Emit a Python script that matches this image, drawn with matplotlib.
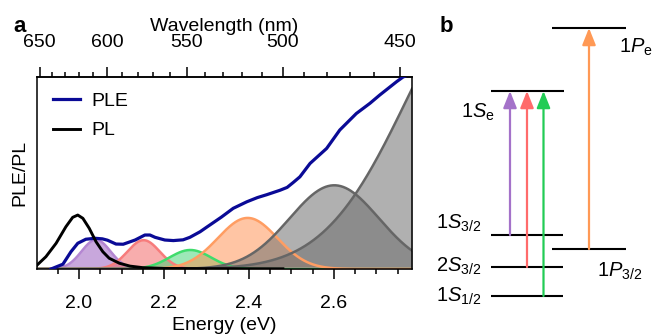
import numpy as np
import matplotlib
matplotlib.use("Agg")
import matplotlib.pyplot as plt
from matplotlib.ticker import FixedLocator, NullFormatter, MultipleLocator

plt.rcParams['font.family'] = ['Liberation Sans', 'DejaVu Sans']
plt.rcParams['mathtext.fontset'] = 'custom'
plt.rcParams['mathtext.rm'] = 'Liberation Sans'
plt.rcParams['mathtext.it'] = 'Liberation Sans:italic'

# ---------------- data (panel a) ----------------
ple_energy = [1.934, 1.962, 1.981, 1.997, 2.016, 2.038, 2.055, 2.067, 2.087, 2.104, 2.132,
              2.155, 2.167, 2.179, 2.202, 2.222, 2.245, 2.261, 2.285, 2.300, 2.335, 2.363,
              2.395, 2.420, 2.442, 2.473, 2.490, 2.504, 2.520, 2.544, 2.583, 2.614, 2.653,
              2.685, 2.708, 2.748, 2.763, 2.780]
ple_value = [0.000, 0.025, 0.090, 0.134, 0.155, 0.160, 0.157, 0.150, 0.130, 0.129, 0.151,
             0.177, 0.177, 0.165, 0.151, 0.148, 0.152, 0.165, 0.194, 0.217, 0.270, 0.316,
             0.350, 0.372, 0.387, 0.410, 0.425, 0.450, 0.480, 0.550, 0.628, 0.724, 0.810,
             0.863, 0.906, 0.976, 1.000, 1.015]

pl_energy = [1.901, 1.922, 1.946, 1.969, 1.985, 1.997, 2.009, 2.024, 2.040, 2.056, 2.071,
             2.095, 2.120, 2.150, 2.200, 2.300, 2.480]
pl_value = [0.020, 0.064, 0.134, 0.220, 0.269, 0.281, 0.264, 0.212, 0.142, 0.090, 0.056,
            0.030, 0.015, 0.007, 0.003, 0.002, 0.001]

# fitted gaussian components: centre (eV), amplitude, sigma (eV)
comp_center = [2.040, 2.152, 2.262, 2.397, 2.601, 2.965]
comp_amp = [0.152, 0.150, 0.099, 0.266, 0.436, 1.450]
comp_sigma = [0.034, 0.038, 0.049, 0.070, 0.105, 0.194]
comp_edge = ['#b486d2', '#f77c7c', '#3fdc6c', '#ff9d62', '#666666', '#666666']
comp_fill = ['#9b5fc0', '#f25c5c', '#3cd370', '#ff8c4a', '#6e6e6e', '#6e6e6e']
comp_alpha = [0.55, 0.5, 0.5, 0.5, 0.54, 0.54]

energy_ticks = [2.0, 2.2, 2.4, 2.6]
wavelength_ticks = [650, 600, 550, 500, 450]

# ---------------- data (panel b) ----------------
level_names = [r'$1\mathit{S}_{\mathrm{e}}$', r'$1\mathit{P}_{\mathrm{e}}$',
               r'$1\mathit{S}_{3/2}$', r'$2\mathit{S}_{3/2}$', r'$1\mathit{S}_{1/2}$',
               r'$1\mathit{P}_{3/2}$']
transition_colors = ['#a472c9', '#ff6b6b', '#22cc55', '#ff9955']

W, H = 653, 334
fig = plt.figure(figsize=(W / 100, H / 100), dpi=100)

# ---------- panel a ----------
ax = fig.add_axes([37 / W, 1 - 269 / H, 375 / W, 192 / H])
xmin, xmax = 1.901, 2.784
E = np.linspace(xmin, xmax, 600)
for c, a, s, ec, fc, al in zip(comp_center, comp_amp, comp_sigma, comp_edge, comp_fill, comp_alpha):
    g = a * np.exp(-(E - c) ** 2 / (2 * s ** 2))
    ax.fill_between(E, 0, g, color=fc, alpha=al, lw=0, zorder=1)
    ax.plot(E, g, color=ec, lw=1.8, zorder=2)

ax.plot(ple_energy, ple_value, color='#0a0a96', lw=2.3, label='PLE', zorder=4,
        solid_joinstyle='round')
ax.plot(pl_energy, pl_value, color='black', lw=2.1, label='PL', zorder=5,
        solid_joinstyle='round')

ax.set_xlim(xmin, xmax)
ax.set_ylim(0, 1.0)
ax.set_yticks([])
ax.xaxis.set_major_locator(FixedLocator(energy_ticks))
ax.xaxis.set_minor_locator(MultipleLocator(0.05))
ax.tick_params(axis='x', which='major', direction='out', length=7, width=1.1,
               labelsize=14, pad=12)
ax.tick_params(axis='x', which='minor', direction='out', length=3.5, width=1.1)
for sp in ax.spines.values():
    sp.set_linewidth(1.1)
ax.set_xlabel('Energy (eV)', fontsize=14, labelpad=3)
ax.set_ylabel('PLE/PL', fontsize=14)
ax.yaxis.set_label_coords(-0.024, 0.5)

hc = 1239.84
sec = ax.secondary_xaxis('top', functions=(lambda x: hc / x, lambda x: hc / x))
sec.xaxis.set_major_locator(FixedLocator(wavelength_ticks))
sec.xaxis.set_minor_locator(FixedLocator(list(range(450, 660, 10))))
sec.xaxis.set_minor_formatter(NullFormatter())
sec.tick_params(axis='x', which='major', direction='out', length=7, width=1.1,
                labelsize=14, pad=12)
sec.tick_params(axis='x', which='minor', direction='out', length=3.5, width=1.1)
sec.spines['top'].set_linewidth(1.1)
sec.set_xlabel('Wavelength (nm)', fontsize=14, labelpad=2)

leg = ax.legend(loc='upper left', frameon=False, fontsize=14, handlelength=1.4,
                handletextpad=0.6, labelspacing=0.6, borderaxespad=0.4,
                bbox_to_anchor=(0.0, 1.0))

fig.text(13 / W, 1 - 32 / H, 'a', fontsize=16, fontweight='bold', ha='left', va='baseline')
fig.text(440 / W, 1 - 32 / H, 'b', fontsize=16, fontweight='bold', ha='left', va='baseline')

# ---------- panel b ----------
bx = fig.add_axes([420 / W, 0, (W - 420) / W, 1])
bx.set_xlim(420, W)
bx.set_ylim(H, 0)
bx.axis('off')

level_y = [91, 28, 235, 267, 296, 249]
level_x0 = [491, 552, 491, 491, 491, 552]
level_x1 = [564, 626, 563, 563, 563, 626]
for y, x0, x1 in zip(level_y, level_x0, level_x1):
    bx.plot([x0, x1], [y, y], color='black', lw=1.5, solid_capstyle='butt')

label_pos = [(495, 118, 'right'), (619, 53, 'left'), (481, 229, 'right'),
             (481, 271.5, 'right'), (481, 301.5, 'right'), (597, 277, 'left')]
for name, (x, y, ha) in zip(level_names, label_pos):
    bx.text(x, y, name, fontsize=14.5, ha=ha, va='baseline')

arrow_x = [510, 527, 543.5, 589]
arrow_from = [235, 267, 296, 249]
arrow_to = [91, 91, 91, 28]
for x, y0, y1, col in zip(arrow_x, arrow_from, arrow_to, transition_colors):
    bx.annotate('', xy=(x, y1), xytext=(x, y0),
                arrowprops=dict(arrowstyle='-|>,head_length=0.6,head_width=0.24',
                                color=col, lw=1.6, mutation_scale=17,
                                shrinkA=0, shrinkB=0))

fig.savefig('out.png', dpi=100)
